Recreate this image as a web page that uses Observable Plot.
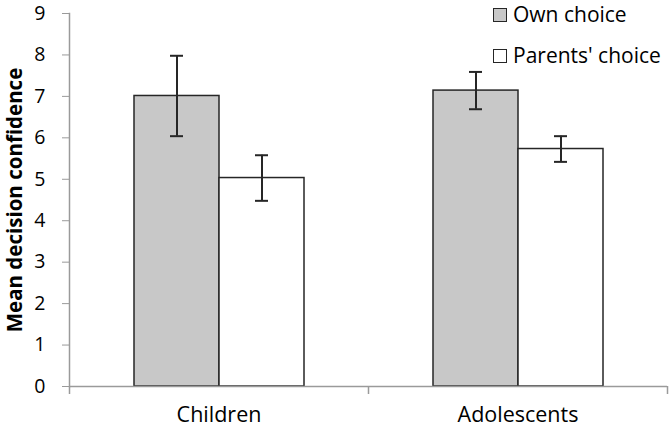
<!DOCTYPE html>
<html>
<head>
<meta charset="utf-8">
<script src="https://cdn.jsdelivr.net/npm/d3@7"></script>
<script src="https://cdn.jsdelivr.net/npm/@observablehq/plot@0.6"></script>
<style>
  html, body { margin: 0; padding: 0; background: #fff; }
  #wrap { position: relative; width: 671px; height: 432px; font-family: "Open Sans", sans-serif; }
  #wrap svg { display: block; }
  g[aria-label="y-axis label"] text { font-weight: bold; font-size: 20.5px; }
  .legend { position: absolute; left: 493px; top: 0; font-size: 21px; color: #000; line-height: 1; }
  .legend .item { position: absolute; left: 0; white-space: nowrap; display: flex; align-items: center; }
  .legend .sw { width: 12px; height: 12px; border: 1.5px solid #262626; margin-right: 6px; box-sizing: content-box; }
</style>
</head>
<body>
<div id="wrap"></div>
<script>
const categories = ["Children", "Adolescents"];
const series = ["Own choice", "Parents' choice"];
const ownMeans = [7.01, 7.14];
const ownErrors = [0.97, 0.45];
const parentsMeans = [5.03, 5.73];
const parentsErrors = [0.55, 0.31];
const yTicks = [0, 1, 2, 3, 4, 5, 6, 7, 8, 9];
const seriesColors = ["#c8c8c8", "#ffffff"];

const rows = [];
categories.forEach((c, i) => {
  rows.push({category: c, series: series[0], mean: ownMeans[i], err: ownErrors[i]});
  rows.push({category: c, series: series[1], mean: parentsMeans[i], err: parentsErrors[i]});
});

const W = 671, H = 432, ML = 69, MR = 4, MT = 13, MB = 46;
const step = (W - ML - MR) / categories.length;
const axisColor = "#9a9a9a";
const dark = "#262626";

const plot = Plot.plot({
  width: W, height: H,
  marginLeft: ML, marginRight: MR, marginTop: MT, marginBottom: MB,
  style: {fontFamily: "'Open Sans', sans-serif", color: "#000", background: "#fff"},
  fx: {domain: categories, padding: 0, label: null},
  x: {domain: series, paddingInner: 0, paddingOuter: 0.75, axis: null},
  y: {domain: [0, 9], axis: null},
  color: {domain: series, range: seriesColors},
  marks: [
    Plot.barY(rows, {fx: "category", x: "series", y: "mean", fill: "series", stroke: dark, strokeWidth: 1.5}),
    Plot.ruleX(rows, {fx: "category", x: "series", y1: d => d.mean - d.err, y2: d => d.mean + d.err, stroke: dark, strokeWidth: 2}),
    Plot.tickY(rows, {fx: "category", x: "series", y: d => d.mean - d.err, stroke: dark, strokeWidth: 2, insetLeft: 36, insetRight: 36}),
    Plot.tickY(rows, {fx: "category", x: "series", y: d => d.mean + d.err, stroke: dark, strokeWidth: 2, insetLeft: 36, insetRight: 36}),
    Plot.ruleY([0], {stroke: axisColor, strokeWidth: 1.5}),
    Plot.frame({anchor: "left", facetAnchor: "left", stroke: axisColor, strokeWidth: 1.5}),
    Plot.axisY({ticks: yTicks, tickSize: 7, tickPadding: 17, stroke: axisColor, fill: "#000", fontSize: 19.5,
      label: "Mean decision confidence", labelAnchor: "center", labelArrow: "none", labelOffset: 62}),
    Plot.axisFx({anchor: "bottom", tickSize: 0, tickPadding: 20, fontSize: 21.5, label: null}),
    Plot.axisFx({anchor: "bottom", tickSize: 8, fill: "none", stroke: axisColor, strokeWidth: 1.5, dx: -step / 2, label: null}),
    Plot.axisFx({anchor: "bottom", ticks: [categories[categories.length - 1]], tickSize: 8, fill: "none", stroke: axisColor, strokeWidth: 1.5, dx: step / 2, label: null})
  ]
});

const wrap = document.getElementById("wrap");
wrap.appendChild(plot);

const legend = document.createElement("div");
legend.className = "legend";
series.forEach((s, i) => {
  const item = document.createElement("div");
  item.className = "item";
  item.style.top = (i === 0 ? 4 : 45) + "px";
  const sw = document.createElement("span");
  sw.className = "sw";
  sw.style.background = seriesColors[i];
  const t = document.createElement("span");
  t.textContent = s;
  item.appendChild(sw);
  item.appendChild(t);
  legend.appendChild(item);
});
wrap.appendChild(legend);
</script>
</body>
</html>
